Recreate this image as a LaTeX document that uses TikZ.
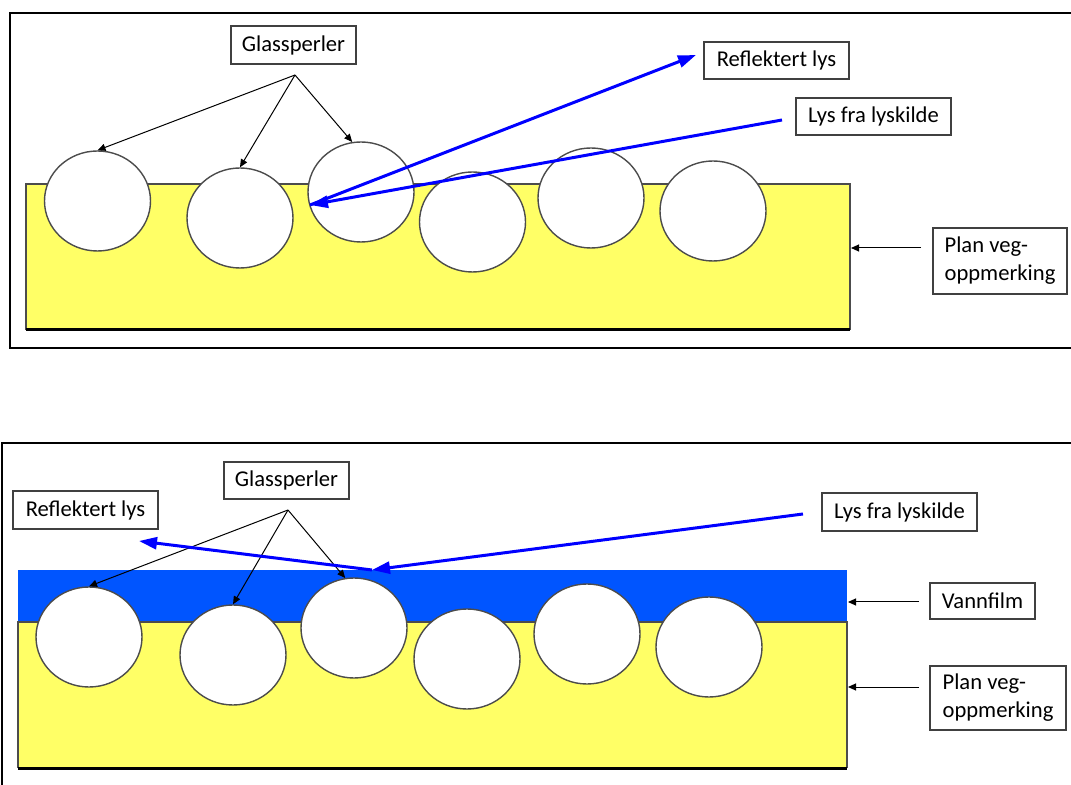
\documentclass[tikz,border=0pt]{standalone}
\usepackage{fontspec}
\setmainfont{Carlito}
\usetikzlibrary{arrows.meta,shapes.geometric}
\definecolor{roadyellow}{HTML}{FFFF66}
\definecolor{water}{HTML}{0055FF}
\begin{document}
\begin{tikzpicture}[x=0.5pt,y=-0.5pt,
  lbl/.style={draw=black!75,line width=0.6pt,fill=white,font=\fontsize{11.3}{14}\selectfont,inner sep=0pt,align=left},
  bead/.style={ellipse,draw=black!70,line width=0.7pt,fill=white,minimum width=53pt,minimum height=50pt,inner sep=0pt},
  ray/.style={draw=blue,line width=1.5pt,-{Triangle[length=9pt,width=6pt]}},
  ptr/.style={draw=black,line width=0.5pt,-{Triangle[length=4pt,width=3.5pt]}},
  frm/.style={draw=black,line width=1.1pt},
  edge/.style={draw=black!70,line width=0.6pt},
  base/.style={draw=black,line width=1.5pt},
]
\useasboundingbox[fill=white] (0,0) rectangle (1071,785);
\clip (0,0) rectangle (1071,785);

% ---------- top panel ----------
\draw[frm] (1080,13) -- (10,13) -- (10,348) -- (1080,348);
\fill[roadyellow] (26,184) rectangle (850,330);
\draw[edge] (26,330) -- (26,184) -- (850,184) -- (850,330);
\draw[base] (26,330) -- (850,330);

\node[bead] (c11) at (97.5,201) {};
\node[bead] (c12) at (240,218) {};
\node[bead] (c13) at (361,192) {};
\node[bead] (c14) at (472.5,222) {};
\node[bead] (c15) at (591,198) {};
\node[bead] (c16) at (713,211) {};

\node[lbl,minimum width=62.5pt,minimum height=19pt] (g1) at (293.5,45) {Glassperler};
\node[lbl,minimum width=72.5pt,minimum height=18.5pt] (r1) at (776.5,60.5) {Reflektert lys};
\node[lbl,minimum width=77.5pt,minimum height=18.5pt] (l1) at (873.5,116.5) {Lys fra lyskilde};
\node[lbl,minimum width=67pt,minimum height=33pt] (p1) at (1000,261) {Plan veg-\\oppmerking};

\coordinate (gp1) at (295,75);
\draw[ptr] (gp1) -- (c11.north);
\draw[ptr] (gp1) -- (c12.north);
\draw[ptr] (gp1) -- (c13.100);

\coordinate (hit1) at (310,205);
\coordinate (src1) at (782,120);
\coordinate (rt1) at (696,55);
\draw[ray] (hit1) -- (rt1);
\draw[ray] (src1) -- (hit1);

\coordinate (pa1) at (921,248);
\coordinate (pe1) at (851,248);
\draw[ptr] (pa1) -- (pe1);

% ---------- bottom panel ----------
\draw[frm] (1080,443) -- (2,443) -- (2,800);
\fill[water] (18,570) rectangle (847,622);
\fill[roadyellow] (18,622) rectangle (847,768);
\draw[edge] (18,768) -- (18,622) -- (847,622) -- (847,768);
\draw[base] (18,768) -- (847,768);

\node[bead] (c21) at (89,637) {};
\node[bead] (c22) at (233,655) {};
\node[bead] (c23) at (354,628) {};
\node[bead] (c24) at (467,659) {};
\node[bead] (c25) at (587,634) {};
\node[bead] (c26) at (709,647) {};

\node[lbl,minimum width=62.5pt,minimum height=18.5pt] (g2) at (286.5,480.5) {Glassperler};
\node[lbl,minimum width=72.5pt,minimum height=19pt] (r2) at (85.5,510) {Reflektert lys};
\node[lbl,minimum width=77.5pt,minimum height=19pt] (l2) at (899.5,512) {Lys fra lyskilde};
\node[lbl,minimum width=52.5pt,minimum height=18pt] (v2) at (982.5,601) {Vannfilm};
\node[lbl,minimum width=68pt,minimum height=32pt] (p2) at (998,698) {Plan veg-\\oppmerking};

\coordinate (gp2) at (288,510);
\draw[ptr] (gp2) -- (c21.north);
\draw[ptr] (gp2) -- (c22.north);
\draw[ptr] (gp2) -- (c23.100);

\coordinate (src2) at (803,514);
\coordinate (hit2) at (372,570);
\coordinate (rt2) at (139,541);
\draw[ray] (src2) -- (hit2);
\draw[ray] (hit2) -- (rt2);

\coordinate (va2) at (919,602);
\coordinate (ve2) at (848,602);
\draw[ptr] (va2) -- (ve2);
\coordinate (pa2) at (919,687);
\coordinate (pe2) at (848,687);
\draw[ptr] (pa2) -- (pe2);
\end{tikzpicture}
\end{document}
